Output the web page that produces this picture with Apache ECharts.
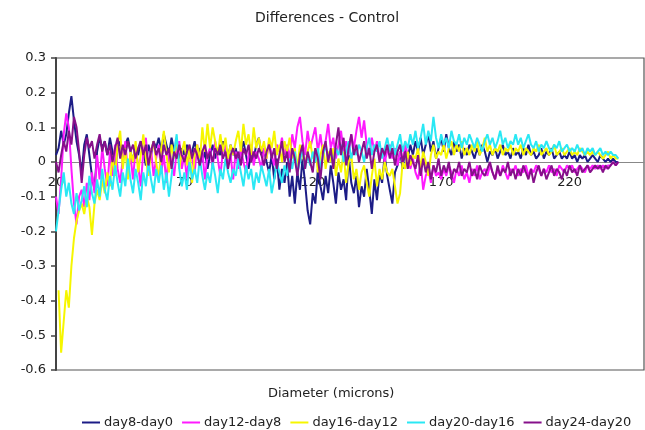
<!DOCTYPE html>
<html>
<head>
<meta charset="utf-8">
<script src="https://cdn.jsdelivr.net/npm/echarts@6/dist/echarts.min.js"></script>
<style>
  html, body { margin: 0; padding: 0; background: #fff; }
  #chart { width: 645px; height: 430px; }
</style>
</head>
<body>
<div id="chart"></div>
<script>
// Diameters run from 20 to 239 microns, one reading per micron.
const firstDiameter = 20;
const xTicks = [20, 70, 120, 170, 220];
const yTicks = [-0.6, -0.5, -0.4, -0.3, -0.2, -0.1, 0, 0.1, 0.2, 0.3];
const seriesNames = ['day8-day0', 'day12-day8', 'day16-day12', 'day20-day16', 'day24-day20'];

const day8_day0 = [
  0.02, 0.04, 0.09, 0.05, 0.08, 0.14, 0.19, 0.12, 0.06, 0.02,
  -0.03, 0.05, 0.08, 0.02, -0.04, -0.08, 0.03, 0.07, 0.04, 0.06,
  0.02, 0.07, 0.03, -0.02, 0.04, 0.06, 0.01, 0.05, 0.07, 0.03,
  0.00, 0.04, 0.02, 0.06, 0.03, -0.01, 0.05, 0.02, 0.06, 0.04,
  0.07, 0.03, 0.08, 0.05, 0.02, 0.07, 0.03, 0.05, 0.01, 0.04,
  0.02, 0.05, 0.01, 0.03, 0.06, 0.02, 0.04, 0.00, 0.03, -0.02,
  0.02, 0.05, 0.01, 0.04, 0.02, 0.06, 0.03, 0.01, 0.05, 0.02,
  0.04, 0.00, 0.03, 0.06, 0.02, -0.02, 0.03, 0.01, 0.05, 0.07,
  0.02, 0.04, 0.00, -0.03, 0.02, -0.05, 0.01, -0.08, -0.02, -0.06,
  0.00, -0.10, -0.04, -0.12, -0.03, -0.08, 0.01, -0.06, -0.14, -0.18,
  -0.09, -0.12, -0.02, -0.07, -0.11, -0.04, -0.09, -0.01, -0.06, -0.12,
  -0.03, -0.08, -0.05, -0.11, 0.02, -0.06, -0.09, -0.04, -0.13, -0.07,
  -0.10, -0.02, -0.08, -0.15, -0.05, -0.11, -0.03, -0.06, 0.02, -0.04,
  -0.08, -0.12, -0.03, -0.01, 0.03, -0.02, 0.04, 0.01, 0.05, 0.02,
  0.06, 0.03, 0.07, 0.02, 0.05, 0.08, 0.03, 0.06, 0.01, 0.04,
  0.07, 0.03, 0.08, 0.04, 0.02, 0.06, 0.03, 0.05, 0.01, 0.04,
  0.02, 0.05, 0.03, 0.01, 0.04, 0.02, 0.05, 0.03, 0.00, 0.03,
  0.02, 0.04, 0.01, 0.03, 0.05, 0.02, 0.03, 0.01, 0.04, 0.02,
  0.03, 0.01, 0.04, 0.02, 0.05, 0.02, 0.03, 0.01, 0.02, 0.04,
  0.01, 0.03, 0.02, 0.04, 0.01, 0.02, 0.03, 0.01, 0.02, 0.01,
  0.03, 0.01, 0.02, 0.00, 0.02, 0.01, 0.02, 0.00, 0.01, 0.02,
  0.01, 0.00, 0.02, 0.01, 0.00, 0.01, 0.00, 0.01, 0.00, 0.00
];

const day12_day8 = [
  -0.10, -0.15, -0.05, 0.08, 0.14, 0.10, -0.02, -0.12, -0.18, -0.10,
  -0.08, -0.13, -0.06, -0.11, -0.03, -0.09, 0.02, -0.05, 0.04, -0.02,
  -0.07, 0.03, -0.04, 0.05, -0.02, -0.06, 0.01, 0.06, -0.03, 0.02,
  -0.05, 0.04, -0.01, -0.07, 0.03, 0.07, -0.02, 0.04, -0.04, 0.01,
  0.05, -0.03, 0.02, -0.06, 0.04, 0.00, -0.04, 0.03, 0.06, -0.02,
  0.02, -0.05, 0.04, 0.01, -0.03, 0.05, -0.01, 0.03, -0.05, 0.02,
  0.04, -0.02, 0.06, 0.01, -0.04, 0.03, 0.05, -0.01, 0.02, -0.05,
  0.03, -0.02, 0.04, 0.00, -0.03, 0.02, 0.05, -0.01, 0.03, 0.01,
  -0.02, 0.04, 0.01, 0.06, 0.02, -0.01, 0.05, 0.03, 0.07, 0.02,
  0.05, 0.01, 0.08, 0.04, 0.10, 0.13, 0.06, 0.02, 0.09, 0.04,
  0.07, 0.10, 0.03, 0.08, 0.02, 0.06, 0.11, 0.04, 0.07, 0.01,
  0.05, 0.09, 0.03, 0.06, 0.02, 0.08, 0.04, 0.09, 0.13, 0.07,
  0.12, 0.05, 0.02, 0.07, 0.03, 0.06, 0.01, 0.04, 0.00, 0.03,
  0.05, 0.01, 0.04, -0.01, 0.03, 0.00, 0.05, 0.02, -0.02, 0.01,
  -0.03, -0.05, 0.00, -0.08, -0.04, -0.02, -0.06, -0.01, -0.04, -0.03,
  -0.05, -0.02, -0.04, -0.01, -0.03, -0.06, -0.02, -0.04, -0.01, -0.05,
  -0.03, -0.06, -0.02, -0.04, -0.01, -0.05, -0.03, -0.02, -0.04, -0.01,
  -0.03, -0.05, -0.02, -0.04, -0.01, -0.03, -0.05, -0.02, -0.03, -0.01,
  -0.04, -0.02, -0.03, -0.01, -0.04, -0.02, -0.03, -0.01, -0.02, -0.04,
  -0.02, -0.03, -0.01, -0.03, -0.02, -0.04, -0.01, -0.02, -0.03, -0.01,
  -0.02, -0.01, -0.03, -0.02, -0.01, -0.02, -0.03, -0.01, -0.02, -0.01,
  -0.02, -0.01, -0.02, -0.01, -0.02, -0.01, -0.01, 0.00, -0.01, 0.00
];

const day16_day12 = [
  null, -0.37, -0.55, -0.46, -0.37, -0.42, -0.30, -0.22, -0.17, -0.14,
  -0.12, -0.15, -0.10, -0.13, -0.21, -0.12, -0.08, -0.11, -0.05, -0.09,
  -0.03, -0.07, 0.02, -0.04, 0.05, 0.09, -0.02, 0.04, -0.05, 0.03,
  0.00, 0.06, -0.03, 0.02, 0.08, 0.01, -0.04, 0.03, 0.06, 0.00,
  -0.05, 0.04, 0.09, 0.02, -0.03, 0.05, 0.01, 0.07, -0.02, 0.03,
  0.06, -0.01, 0.04, -0.06, 0.02, 0.05, 0.00, 0.10, 0.03, 0.11,
  0.04, 0.10, 0.06, 0.02, 0.08, 0.03, 0.07, 0.01, 0.05, 0.02,
  0.06, 0.09, 0.03, 0.11, 0.05, 0.08, 0.02, 0.10, 0.04, 0.07,
  0.03, 0.06, 0.01, 0.07, 0.04, 0.09, 0.02, 0.05, 0.00, 0.06,
  0.03, 0.07, 0.01, 0.04, -0.02, 0.05, 0.02, -0.01, 0.03, 0.06,
  0.01, 0.04, -0.03, 0.02, 0.05, -0.02, 0.03, 0.00, 0.04, -0.04,
  0.01, -0.03, 0.03, -0.06, 0.00, 0.02, -0.05, -0.02, -0.08, -0.03,
  -0.01, -0.06, -0.10, -0.04, 0.01, -0.07, -0.02, -0.05, 0.00, -0.03,
  -0.04, -0.02, -0.07, -0.12, -0.09, 0.00, -0.02, 0.03, -0.01, 0.02,
  0.01, 0.04, -0.02, 0.03, 0.00, -0.04, 0.02, 0.05, 0.01, 0.03,
  0.02, 0.05, 0.01, 0.04, 0.06, 0.02, 0.05, 0.03, 0.06, 0.02,
  0.04, 0.02, 0.05, 0.03, 0.06, 0.02, 0.04, 0.07, 0.03, 0.05,
  0.02, 0.04, 0.03, 0.05, 0.02, 0.04, 0.03, 0.05, 0.02, 0.04,
  0.03, 0.05, 0.02, 0.04, 0.03, 0.02, 0.04, 0.03, 0.05, 0.02,
  0.03, 0.04, 0.02, 0.03, 0.05, 0.02, 0.03, 0.04, 0.02, 0.03,
  0.04, 0.02, 0.03, 0.02, 0.04, 0.03, 0.02, 0.03, 0.02, 0.03,
  0.02, 0.03, 0.02, 0.01, 0.02, 0.03, 0.01, 0.02, 0.01, 0.01
];

const day20_day16 = [
  -0.20, -0.14, -0.08, -0.03, -0.10, -0.06, -0.12, -0.15, -0.09, -0.14,
  -0.11, -0.07, -0.13, -0.04, -0.09, -0.12, -0.05, -0.10, -0.02, -0.08,
  -0.11, -0.04, -0.08, -0.01, -0.06, -0.10, -0.03, -0.07, 0.01, -0.05,
  -0.09, -0.02, -0.06, -0.11, -0.03, -0.07, 0.00, -0.05, -0.09, -0.02,
  -0.06, -0.01, -0.08, -0.03, -0.10, -0.04, 0.03, 0.08, -0.02, -0.07,
  -0.03, -0.08, 0.00, -0.05, -0.02, -0.06, 0.01, -0.04, -0.08, -0.03,
  -0.06, 0.00, -0.04, -0.09, -0.02, -0.05, 0.01, -0.03, -0.06, -0.02,
  -0.04, 0.01, -0.03, -0.07, -0.01, -0.05, -0.02, -0.08, -0.03, -0.06,
  -0.01, -0.04, -0.07, -0.02, -0.09, -0.05, 0.00, -0.03, -0.06, -0.01,
  -0.04, 0.01, -0.02, 0.03, -0.03, 0.00, 0.04, -0.02, 0.02, -0.01,
  0.03, 0.00, 0.04, -0.02, 0.02, 0.05, 0.01, 0.03, -0.01, 0.04,
  0.02, 0.05, 0.00, 0.03, 0.06, 0.01, 0.04, 0.02, 0.05, 0.03,
  0.00, 0.04, 0.07, 0.02, 0.05, 0.03, 0.06, 0.01, 0.04, 0.07,
  0.03, 0.06, 0.02, 0.05, 0.08, 0.03, 0.06, 0.04, 0.08, 0.05,
  0.09, 0.04, 0.07, 0.11, 0.05, 0.09, 0.06, 0.13, 0.07, 0.04,
  0.08, 0.05, 0.07, 0.04, 0.09, 0.06, 0.05, 0.08, 0.04, 0.07,
  0.05, 0.08, 0.06, 0.04, 0.07, 0.05, 0.03, 0.06, 0.08, 0.05,
  0.07, 0.04, 0.06, 0.09, 0.05, 0.07, 0.04, 0.06, 0.05, 0.08,
  0.05, 0.07, 0.04, 0.06, 0.08, 0.05, 0.04, 0.06, 0.03, 0.05,
  0.04, 0.06, 0.04, 0.03, 0.05, 0.04, 0.06, 0.03, 0.04, 0.05,
  0.03, 0.04, 0.03, 0.05, 0.03, 0.04, 0.02, 0.04, 0.03, 0.04,
  0.02, 0.03, 0.04, 0.02, 0.03, 0.02, 0.03, 0.02, 0.02, 0.01
];

const day24_day20 = [
  0.00, -0.03, 0.02, 0.06, 0.03, 0.09, 0.05, 0.13, 0.10, 0.03,
  -0.06, 0.02, 0.07, 0.04, 0.06, 0.01, 0.05, 0.08, 0.03, 0.06,
  0.02, 0.05, 0.00, 0.04, 0.07, 0.01, 0.05, 0.02, 0.06, 0.03,
  0.05, 0.01, 0.04, 0.06, 0.02, 0.05, -0.01, 0.03, 0.06, 0.02,
  0.04, 0.00, 0.05, 0.02, 0.04, -0.02, 0.03, 0.01, 0.05, 0.02,
  0.00, 0.03, 0.05, 0.01, 0.04, 0.02, -0.01, 0.03, 0.05, 0.01,
  0.03, 0.00, 0.04, 0.02, 0.05, 0.01, 0.03, -0.02, 0.02, 0.04,
  0.01, 0.03, -0.01, 0.04, 0.02, 0.05, 0.00, 0.03, 0.01, 0.04,
  0.02, -0.01, 0.03, 0.05, 0.01, 0.04, -0.02, 0.02, 0.06, 0.00,
  0.03, -0.03, 0.04, 0.01, -0.04, 0.02, 0.05, -0.02, 0.03, 0.00,
  -0.03, 0.04, 0.01, -0.05, 0.03, 0.06, 0.00, 0.04, -0.02, 0.05,
  0.10, 0.02, 0.07, -0.01, 0.04, 0.08, 0.02, 0.05, 0.00, 0.03,
  0.06, 0.01, 0.04, -0.02, 0.03, 0.05, 0.00, 0.04, 0.02, 0.05,
  0.01, 0.04, -0.01, 0.03, 0.05, 0.00, 0.03, -0.02, 0.02, 0.00,
  -0.02, 0.02, -0.04, 0.01, -0.03, 0.00, -0.05, -0.01, -0.03, 0.01,
  -0.04, -0.01, -0.03, 0.00, -0.05, -0.02, -0.03, 0.00, -0.04, -0.02,
  -0.03, 0.00, -0.04, -0.02, -0.05, -0.01, -0.03, -0.04, -0.02, 0.00,
  -0.03, -0.05, -0.01, -0.04, -0.02, -0.03, 0.00, -0.04, -0.02, -0.05,
  -0.02, -0.04, -0.01, -0.03, -0.05, -0.02, -0.06, -0.03, -0.01, -0.04,
  -0.02, -0.05, -0.03, -0.01, -0.04, -0.02, -0.03, -0.05, -0.02, -0.04,
  -0.01, -0.03, -0.02, -0.04, -0.01, -0.03, -0.02, -0.01, -0.03, -0.02,
  -0.01, -0.02, -0.01, -0.03, -0.01, -0.02, -0.01, 0.00, -0.01, 0.00
];

const seriesValues = [day8_day0, day12_day8, day16_day12, day20_day16, day24_day20];
const seriesColors = ['#1c1c86', '#ff1aff', '#f6f600', '#2ae8f4', '#86108a'];

// Pair every reading with its diameter.
function toPoints(values) {
  return values.map((v, i) => [firstDiameter + i, v]);
}

const fontFamily = '"DejaVu Sans", Verdana, sans-serif';
const gridTop = 58;
const gridBottom = 60;
const chartHeight = 430;
// Pixel distance from the bottom of the plot up to the zero line.
const plotHeight = chartHeight - gridTop - gridBottom;
const zeroLift = plotHeight * (0 - yTicks[0]) / (yTicks[yTicks.length - 1] - yTicks[0]);

const chart = echarts.init(document.getElementById('chart'), null, { renderer: 'canvas' });

chart.setOption({
  animation: false,
  backgroundColor: '#ffffff',
  grid: {
    left: 56, right: 1, top: gridTop, bottom: gridBottom,
    show: true, borderColor: '#555', borderWidth: 1.2, backgroundColor: 'transparent'
  },
  graphic: [
    {
      type: 'text', left: 255, top: 11,
      style: { text: 'Differences - Control', font: '14px ' + fontFamily, fill: '#222' }
    },
    {
      type: 'text', left: 268, top: 387,
      style: { text: 'Diameter (microns)', font: '13px ' + fontFamily, fill: '#222' }
    }
  ],
  legend: {
    left: 77, top: 411, width: 568,
    itemWidth: 18, itemHeight: 2, itemGap: 9,
    icon: 'rect',
    textStyle: { fontFamily: fontFamily, fontSize: 13, color: '#222', padding: [0, 0, 0, -1] },
    data: seriesNames
  },
  xAxis: {
    type: 'value',
    position: 'bottom',
    offset: -zeroLift,
    min: xTicks[0], max: 249, interval: xTicks[1] - xTicks[0],
    axisLine: { onZero: false, lineStyle: { color: '#888', width: 1 } },
    axisTick: { show: false },
    splitLine: { show: false },
    axisLabel: {
      margin: 14, showMaxLabel: false,
      fontFamily: fontFamily, fontSize: 13, color: '#222'
    }
  },
  yAxis: {
    type: 'value',
    min: yTicks[0], max: yTicks[yTicks.length - 1], interval: 0.1,
    axisLine: { show: true, onZero: false, lineStyle: { color: '#444', width: 2 } },
    axisTick: { show: true, length: 5, lineStyle: { color: '#444', width: 1.5 } },
    splitLine: { show: false },
    axisLabel: {
      margin: 10, fontFamily: fontFamily, fontSize: 13, color: '#222',
      formatter: v => {
        const r = Math.round(v * 10) / 10;
        return r === 0 ? '0' : String(r);
      }
    }
  },
  series: seriesNames.map((name, k) => ({
    name: name,
    type: 'line',
    data: toPoints(seriesValues[k]),
    showSymbol: false,
    symbol: 'none',
    connectNulls: false,
    color: seriesColors[k],
    lineStyle: { width: 2, color: seriesColors[k] }
  }))
});
</script>
</body>
</html>
